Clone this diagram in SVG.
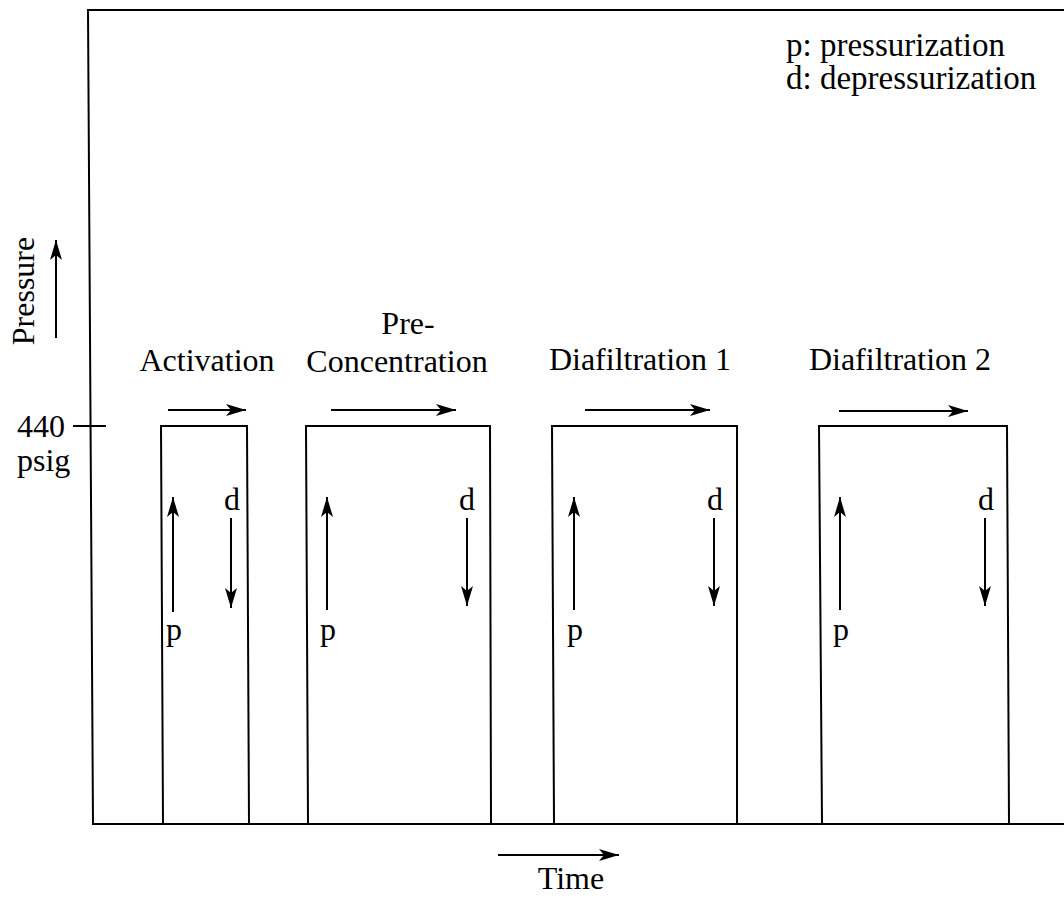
<svg xmlns="http://www.w3.org/2000/svg" width="1064" height="901" viewBox="0 0 1064 901" font-family="Liberation Serif, DejaVu Serif, serif" font-size="32">
<style>
.ln{stroke:#000;stroke-width:2;fill:none}
.ar{stroke:#000;stroke-width:2;fill:none;marker-end:url(#ah)}
.m{text-anchor:middle}
.lg{font-size:33px}
</style>
<defs>
<marker id="ah" markerUnits="userSpaceOnUse" markerWidth="24" markerHeight="14" refX="20" refY="6" orient="auto">
<path d="M0,0 L20,6 L0,12 L5,6 Z" fill="#000"/>
</marker>
</defs>
<rect width="1064" height="901" fill="#fff"/>
<g id="axes">
<path class="ln" d="M1064,10 L88,10 L93,824 L1064,824"/>
<line class="ln" x1="73" y1="426" x2="106" y2="426"/>
<text x="17" y="437">440</text>
<text x="17" y="471">psig</text>
<text transform="translate(34,291) rotate(-90)" class="m">Pressure</text>
<line class="ar" x1="56" y1="338" x2="56" y2="240"/>
<text x="571" y="889" class="m">Time</text>
<line class="ar" x1="498" y1="855" x2="619" y2="855"/>
</g>
<g id="legend">
<text x="786" y="56" class="lg">p: pressurization</text>
<text x="786" y="89" class="lg">d: depressurization</text>
</g>
<g id="activation">
<path class="ln" d="M163,824 L161,426 L247,426 L249,824"/>
<text x="207" y="371" class="m">Activation</text>
</g>
<g id="preconcentration">
<path class="ln" d="M308,824 L306,426 L490,426 L491,824"/>
<text x="408" y="334" class="m">Pre-</text>
<text x="397" y="372" class="m">Concentration</text>
</g>
<g id="diafiltration1">
<path class="ln" d="M554,824 L552,426 L737,426 L737,824"/>
<text x="640" y="370" class="m">Diafiltration 1</text>
</g>
<g id="diafiltration2">
<path class="ln" d="M822,824 L819,426 L1007,426 L1009,824"/>
<text x="900" y="370" class="m">Diafiltration 2</text>
</g>
<g id="labels">
<text x="174" y="640" class="m">p</text>
<text x="232" y="510" class="m">d</text>
<text x="328" y="640" class="m">p</text>
<text x="467" y="510" class="m">d</text>
<text x="575" y="640" class="m">p</text>
<text x="715" y="510" class="m">d</text>
<text x="841" y="640" class="m">p</text>
<text x="986" y="510" class="m">d</text>
</g>
<g id="connectors">
<line class="ar" x1="168" y1="410" x2="246" y2="410"/>
<line class="ar" x1="331" y1="410" x2="456" y2="410"/>
<line class="ar" x1="585" y1="410" x2="710" y2="410"/>
<line class="ar" x1="839" y1="411" x2="968" y2="411"/>
<line class="ar" x1="173" y1="612" x2="173" y2="497"/>
<line class="ar" x1="231" y1="518" x2="231" y2="608"/>
<line class="ar" x1="327" y1="610" x2="327" y2="497"/>
<line class="ar" x1="467" y1="518" x2="467" y2="606"/>
<line class="ar" x1="574" y1="610" x2="574" y2="497"/>
<line class="ar" x1="714" y1="518" x2="714" y2="606"/>
<line class="ar" x1="840" y1="610" x2="840" y2="497"/>
<line class="ar" x1="985" y1="518" x2="985" y2="606"/>
</g>
</svg>
